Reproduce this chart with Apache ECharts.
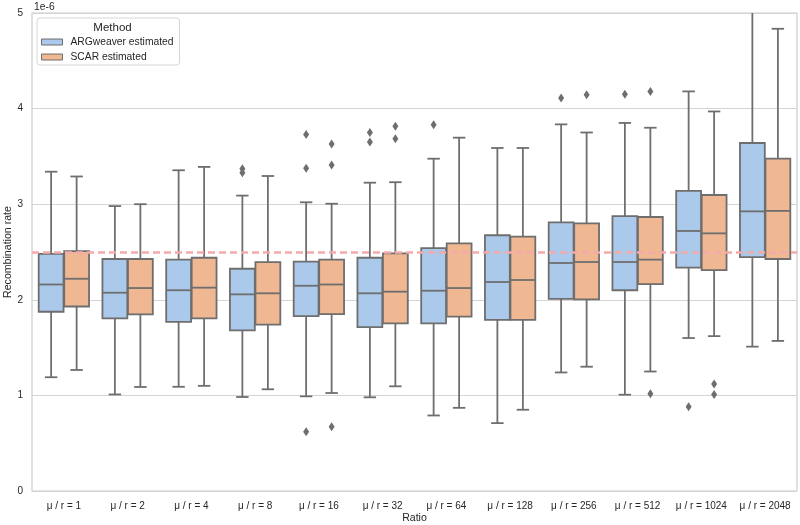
<!DOCTYPE html>
<html>
<head>
<meta charset="utf-8">
<script src="https://cdn.jsdelivr.net/npm/echarts@6/dist/echarts.min.js"></script>
<style>html,body{margin:0;padding:0;background:#fff}#c{width:800px;height:525px}</style>
</head>
<body>
<div id="c"></div>
<script>
const categories = ['μ / r = 1','μ / r = 2','μ / r = 4','μ / r = 8','μ / r = 16','μ / r = 32','μ / r = 64','μ / r = 128','μ / r = 256','μ / r = 512','μ / r = 1024','μ / r = 2048'];
// [low whisker, Q1, median, Q3, high whisker] in units of 1e-6
const argweaver = [
  [1.19, 1.875, 2.16, 2.48, 3.34],
  [1.01, 1.806, 2.074, 2.427, 2.98],
  [1.09, 1.77, 2.10, 2.42, 3.355],
  [0.983, 1.68, 2.057, 2.325, 3.09],
  [0.99, 1.83, 2.147, 2.40, 3.02],
  [0.98, 1.715, 2.068, 2.44, 3.225],
  [0.79, 1.754, 2.095, 2.54, 3.476],
  [0.71, 1.79, 2.186, 2.675, 3.588],
  [1.24, 2.01, 2.385, 2.81, 3.835],
  [1.007, 2.10, 2.395, 2.876, 3.85],
  [1.60, 2.336, 2.72, 3.14, 4.18],
  [1.51, 2.447, 2.925, 3.64, 5.3]
];
const scar = [
  [1.266, 1.93, 2.22, 2.51, 3.29],
  [1.088, 1.848, 2.123, 2.427, 3.00],
  [1.10, 1.806, 2.127, 2.44, 3.39],
  [1.064, 1.74, 2.068, 2.395, 3.295],
  [1.025, 1.85, 2.16, 2.42, 3.005],
  [1.095, 1.754, 2.085, 2.486, 3.23],
  [0.87, 1.823, 2.123, 2.59, 3.696],
  [0.85, 1.79, 2.207, 2.66, 3.588],
  [1.30, 2.005, 2.395, 2.80, 3.75],
  [1.25, 2.165, 2.42, 2.866, 3.80],
  [1.62, 2.31, 2.695, 3.096, 3.97],
  [1.57, 2.427, 2.93, 3.476, 4.835]
];
// [category index, value]
const argOutliers = [[3,3.37],[3,3.33],[4,3.73],[4,3.375],[4,0.62],[5,3.75],[5,3.65],[6,3.83],[8,4.11],[9,4.15],[10,0.88]];
const scarOutliers = [[4,3.63],[4,3.41],[4,0.673],[5,3.815],[5,3.685],[8,4.145],[9,4.18],[9,1.018],[10,1.12],[10,1.01]];
const trueRate = 2.5;
const yTicks = ['0','1','2','3','4','5'];

const BLUE = '#abc9ea', ORANGE = '#efb792', EDGE = '#6e6e6e', TXT = '#262626';
const FONT = '"Liberation Sans", Arial, sans-serif';

function boxRenderer(offFrac, color) {
  return function (params, api) {
    const idx = api.value(0);
    const bw = api.size([1, 0])[0];
    const cx = api.coord([idx, 0])[0] + offFrac * bw;
    const w = bw * 0.39;
    const y = v => api.coord([idx, v])[1];
    const lo = y(api.value(1)), q1 = y(api.value(2)), md = y(api.value(3)), q3 = y(api.value(4)), hi = y(api.value(5));
    const ls = { stroke: EDGE, lineWidth: 1.8, fill: null };
    const line = (x1, y1, x2, y2) => ({ type: 'line', shape: { x1, y1, x2, y2 }, style: ls });
    return {
      type: 'group',
      children: [
        line(cx, q1, cx, lo),
        line(cx, q3, cx, hi),
        line(cx - w / 4, lo, cx + w / 4, lo),
        line(cx - w / 4, hi, cx + w / 4, hi),
        { type: 'rect', shape: { x: cx - w / 2, y: q3, width: w, height: q1 - q3 }, style: { fill: color, stroke: EDGE, lineWidth: 1.8 } },
        line(cx - w / 2, md, cx + w / 2, md)
      ]
    };
  };
}
function outlierRenderer(offFrac) {
  return function (params, api) {
    const idx = api.value(0);
    const bw = api.size([1, 0])[0];
    const p = api.coord([idx, api.value(1)]);
    const cx = p[0] + offFrac * bw, cy = p[1];
    return { type: 'polygon', shape: { points: [[cx, cy - 4.5], [cx + 3, cy], [cx, cy + 4.5], [cx - 3, cy]] }, style: { fill: EDGE } };
  };
}

const chart = echarts.init(document.getElementById('c'), null, { renderer: 'canvas' });
chart.setOption({
  animation: false,
  backgroundColor: '#fff',
  textStyle: { fontFamily: FONT, color: TXT },
  grid: { left: 32, right: 3, top: 13, bottom: 34, containLabel: false, outerBoundsMode: 'none', show: true, borderColor: '#cccccc', borderWidth: 1.2 },
  title: {
    text: 'Method', left: 107.5, top: 17, textAlign: 'center',
    textStyle: { fontSize: 11.5, fontWeight: 'normal', color: TXT, fontFamily: FONT }
  },
  legend: {
    orient: 'vertical', left: 37, top: 18,
    padding: [19, 6, 3, 4],
    itemWidth: 21, itemHeight: 6, itemGap: 5,
    borderColor: '#d6d6d6', borderWidth: 1, borderRadius: 3,
    textStyle: { fontSize: 10.3, color: TXT, fontFamily: FONT, padding: [0, 0, 0, 3] },
    data: [
      { name: 'ARGweaver estimated', icon: 'rect', itemStyle: { color: BLUE, borderColor: EDGE, borderWidth: 1 } },
      { name: 'SCAR estimated', icon: 'rect', itemStyle: { color: ORANGE, borderColor: EDGE, borderWidth: 1 } }
    ]
  },
  graphic: [{ type: 'text', left: 34, top: 2, style: { text: '1e-6', fontSize: 10.3, fill: TXT, fontFamily: FONT } }],
  xAxis: {
    type: 'category', data: categories, boundaryGap: true,
    name: 'Ratio', nameLocation: 'middle', nameGap: 22, nameMoveOverlap: false,
    nameTextStyle: { fontSize: 10.6, color: TXT, fontFamily: FONT },
    axisLine: { show: false }, axisTick: { show: false }, splitLine: { show: false },
    axisLabel: { fontSize: 10, color: TXT, margin: 10, interval: 0, fontFamily: FONT }
  },
  yAxis: {
    type: 'value', min: 0, max: 5, interval: 1,
    name: 'Recombination rate', nameLocation: 'middle', nameGap: 18, nameMoveOverlap: false,
    nameTextStyle: { fontSize: 10.6, color: TXT, fontFamily: FONT },
    axisLine: { show: false }, axisTick: { show: false },
    axisLabel: { fontSize: 10, color: TXT, margin: 9, fontFamily: FONT, formatter: v => yTicks[Math.round(v)] },
    splitLine: { show: true, lineStyle: { color: '#d4d4d4', width: 1.2 } }
  },
  series: [
    {
      name: 'ARGweaver estimated', type: 'custom', clip: true, z: 2,
      itemStyle: { color: BLUE },
      renderItem: boxRenderer(-0.2, BLUE), encode: { x: 0, y: [1, 2, 3, 4, 5] },
      data: argweaver.map((d, i) => [i].concat(d))
    },
    {
      name: 'SCAR estimated', type: 'custom', clip: true, z: 2,
      itemStyle: { color: ORANGE },
      renderItem: boxRenderer(0.2, ORANGE), encode: { x: 0, y: [1, 2, 3, 4, 5] },
      data: scar.map((d, i) => [i].concat(d))
    },
    {
      name: 'argOut', type: 'custom', clip: true, z: 3,
      renderItem: outlierRenderer(-0.2), encode: { x: 0, y: 1 }, data: argOutliers
    },
    {
      name: 'scarOut', type: 'custom', clip: true, z: 3,
      renderItem: outlierRenderer(0.2), encode: { x: 0, y: 1 }, data: scarOutliers,
      markLine: {
        silent: true, symbol: 'none', label: { show: false }, z: 5,
        lineStyle: { color: '#f5aaaa', width: 2.6, type: [7, 4] },
        data: [{ yAxis: trueRate }]
      }
    }
  ]
});
</script>
</body>
</html>
